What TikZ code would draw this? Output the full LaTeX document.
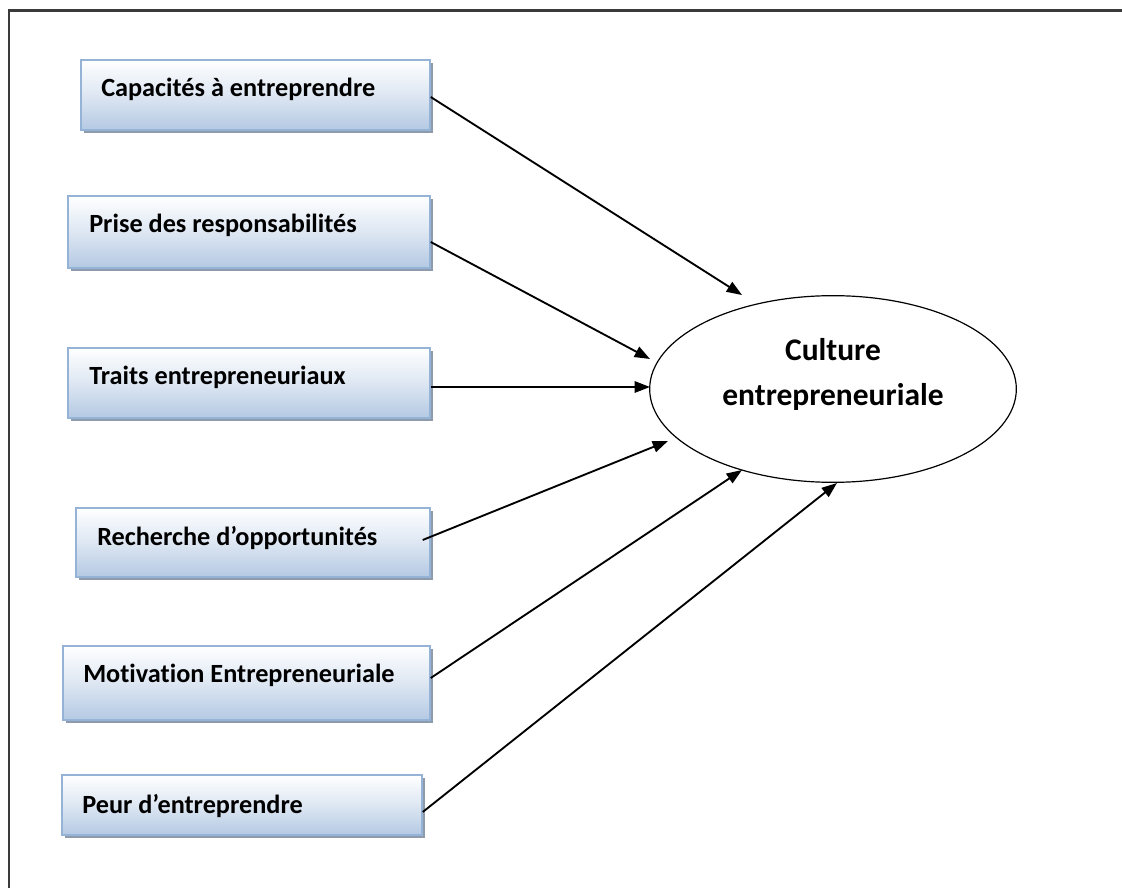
\documentclass[tikz,border=0pt]{standalone}
\usepackage{fontspec}
\setmainfont[Ligatures=NoCommon]{Carlito}
\usetikzlibrary{arrows.meta,shadows,fit,shapes.geometric}

\definecolor{boxborder}{HTML}{95B3D7}
\definecolor{boxbottom}{HTML}{B4C9E3}
\definecolor{boxshadow}{HTML}{8E9BAD}
\definecolor{framecol}{HTML}{3A3A3A}

\tikzset{
  factor/.style={rectangle, inner sep=0pt, draw=boxborder, line width=1.1pt,
    top color=white, bottom color=boxbottom, middle color=white!55!boxbottom,
    drop shadow={shadow xshift=2.4pt, shadow yshift=-2.4pt, fill=boxshadow, opacity=1}},
  factortext/.style={anchor=base west, inner sep=0pt, font=\fontsize{19.7}{23}\selectfont\bfseries},
  centretext/.style={anchor=base, inner sep=0pt, font=\fontsize{23.6}{28}\selectfont\bfseries},
  outcome/.style={ellipse, draw=black, line width=0.9pt, fill=white, inner sep=0pt},
  arr/.style={-{Triangle[length=11.5pt,width=8.5pt]}, line width=1.4pt, black},
  frame/.style={draw=framecol, line width=1.6pt}
}

\begin{document}
\begin{tikzpicture}[x=0.75pt,y=-0.75pt]
  \useasboundingbox (0,0) rectangle (1122,888);
  \fill[white] (0,0) rectangle (1122,888);

  % outer frame (top and left edges)
  \draw[frame] (9,888) -- (9,10.5) -- (1122,10.5);

  % factor boxes
  \node[factor, fit={(81,60) (430,130)}]  (b1) {};
  \node[factor, fit={(68,196) (430,268)}] (b2) {};
  \node[factor, fit={(68,348) (430,418)}] (b3) {};
  \node[factor, fit={(76,508) (430,577)}] (b4) {};
  \node[factor, fit={(63,646) (430,720)}] (b5) {};
  \node[factor, fit={(62,775) (422,835)}] (b6) {};

  \node[factortext] (l1) at (101,97)  {Capacités à entreprendre};
  \node[factortext] (l2) at (89,233)  {Prise des responsabilités};
  \node[factortext] (l3) at (89,384)  {Traits entrepreneuriaux};
  \node[factortext] (l4) at (97,545)  {Recherche d’opportunités};
  \node[factortext] (l5) at (83,682)  {Motivation Entrepreneuriale};
  \node[factortext] (l6) at (82,813)  {Peur d’entreprendre};

  % central concept
  \node[outcome, minimum width=275pt, minimum height=140pt] (c) at (833,389) {};
  \node[centretext] (c1) at (833,360) {Culture};
  \node[centretext] (c2) at (833,405) {entrepreneuriale};

  % arrow tips around the ellipse
  \coordinate (t1) at (742,295);
  \coordinate (t2) at (650,359);
  \coordinate (t3) at (650,387);
  \coordinate (t4) at (668,441);
  \coordinate (t5) at (742,470);
  \coordinate (t6) at (837,483);

  \draw[arr] ([yshift=-1.5pt]b1.east) -- (t1);
  \draw[arr] ([yshift=-7.5pt]b2.east) -- (t2);
  \draw[arr] ([yshift=-3pt]b3.east) -- (t3);
  \draw[arr] ([xshift=-6pt,yshift=1.9pt]b4.east) -- (t4);
  \draw[arr] ([yshift=3.75pt]b5.east) -- (t5);
  \draw[arr] ([yshift=-5.25pt]b6.east) -- (t6);
\end{tikzpicture}
\end{document}
